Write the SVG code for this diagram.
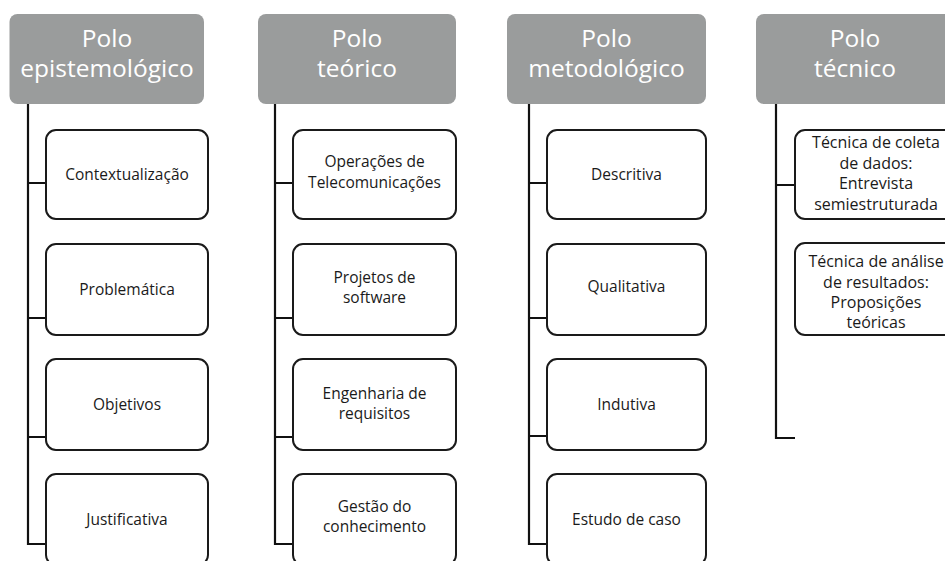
<svg xmlns="http://www.w3.org/2000/svg" width="945" height="561" viewBox="0 0 945 561">
<style>
.hdr{fill:#9a9c9c;}
.hdr-t{fill:#ffffff;font-family:"Open Sans","Noto Sans",sans-serif;font-size:24.5px;text-anchor:middle;}
.box{fill:#ffffff;stroke:#1a1a1a;stroke-width:2;}
.t{fill:#1a1a1a;font-family:"Open Sans","Noto Sans",sans-serif;font-size:15.5px;text-anchor:middle;}
.t4{font-size:16px;}
.con{fill:none;stroke:#111111;stroke-width:2.2;}
</style>
<rect width="945" height="561" fill="#ffffff"/>
<g id="connectors">
<path class="con" d="M28,104 V545 M28,183 H46 M28,318 H46 M28,437 H46 M28,544 H46"/>
<path class="con" d="M275,104 V545 M275,183 H293 M275,318 H293 M275,437 H293 M275,544 H293"/>
<path class="con" d="M529,104 V545 M529,183 H547 M529,318 H547 M529,436 H547 M529,544 H547"/>
<path class="con" d="M776,104 V439 M776,185 H795 M776,438 H795"/>
</g>
<g id="h1"><rect class="hdr" x="9.5" y="14" width="194.5" height="90" rx="8"/><text class="hdr-t" x="107" y="47">Polo</text><text class="hdr-t" x="107" y="77">epistemológico</text></g>
<g id="h2"><rect class="hdr" x="258" y="14" width="198" height="90" rx="8"/><text class="hdr-t" x="357" y="47">Polo</text><text class="hdr-t" x="357" y="77">teórico</text></g>
<g id="h3"><rect class="hdr" x="507" y="14" width="199" height="90" rx="8"/><text class="hdr-t" x="606.5" y="47">Polo</text><text class="hdr-t" x="606.5" y="77">metodológico</text></g>
<g id="h4"><rect class="hdr" x="756" y="14" width="198" height="90" rx="8"/><text class="hdr-t" x="855" y="47">Polo</text><text class="hdr-t" x="855" y="77">técnico</text></g>

<g id="c1a"><rect class="box" x="46" y="130" width="162" height="89" rx="10"/><text class="t" x="127" y="180">Contextualização</text></g>
<g id="c1b"><rect class="box" x="46" y="244" width="162" height="91" rx="10"/><text class="t" x="127" y="295">Problemática</text></g>
<g id="c1c"><rect class="box" x="46" y="359" width="162" height="91" rx="10"/><text class="t" x="127" y="410">Objetivos</text></g>
<g id="c1d"><rect class="box" x="46" y="474" width="162" height="91" rx="10"/><text class="t" x="127" y="525">Justificativa</text></g>

<g id="c2a"><rect class="box" x="293" y="130" width="163" height="89" rx="10"/><text class="t" x="374.5" y="167">Operações de</text><text class="t" x="374.5" y="188">Telecomunicações</text></g>
<g id="c2b"><rect class="box" x="293" y="244" width="163" height="91" rx="10"/><text class="t" x="374.5" y="283">Projetos de</text><text class="t" x="374.5" y="303">software</text></g>
<g id="c2c"><rect class="box" x="293" y="359" width="163" height="91" rx="10"/><text class="t" x="374.5" y="399">Engenharia de</text><text class="t" x="374.5" y="419">requisitos</text></g>
<g id="c2d"><rect class="box" x="293" y="474" width="163" height="91" rx="10"/><text class="t" x="374.5" y="512">Gestão do</text><text class="t" x="374.5" y="532">conhecimento</text></g>

<g id="c3a"><rect class="box" x="547" y="130" width="159" height="89" rx="10"/><text class="t" x="626.5" y="180">Descritiva</text></g>
<g id="c3b"><rect class="box" x="547" y="244" width="159" height="91" rx="10"/><text class="t" x="626.5" y="292">Qualitativa</text></g>
<g id="c3c"><rect class="box" x="547" y="359" width="159" height="91" rx="10"/><text class="t" x="626.5" y="410">Indutiva</text></g>
<g id="c3d"><rect class="box" x="547" y="474" width="159" height="91" rx="10"/><text class="t" x="626.5" y="525">Estudo de caso</text></g>

<g id="c4a"><rect class="box" x="795" y="130" width="162" height="89" rx="10"/><text class="t t4" x="876" y="148">Técnica de coleta</text><text class="t t4" x="876" y="169">de dados:</text><text class="t t4" x="876" y="189">Entrevista</text><text class="t t4" x="876" y="210">semiestruturada</text></g>
<g id="c4b"><rect class="box" x="795" y="243" width="162" height="92" rx="10"/><text class="t t4" x="876" y="267">Técnica de análise</text><text class="t t4" x="876" y="288">de resultados:</text><text class="t t4" x="876" y="308">Proposições</text><text class="t t4" x="876" y="328">teóricas</text></g>
</svg>
